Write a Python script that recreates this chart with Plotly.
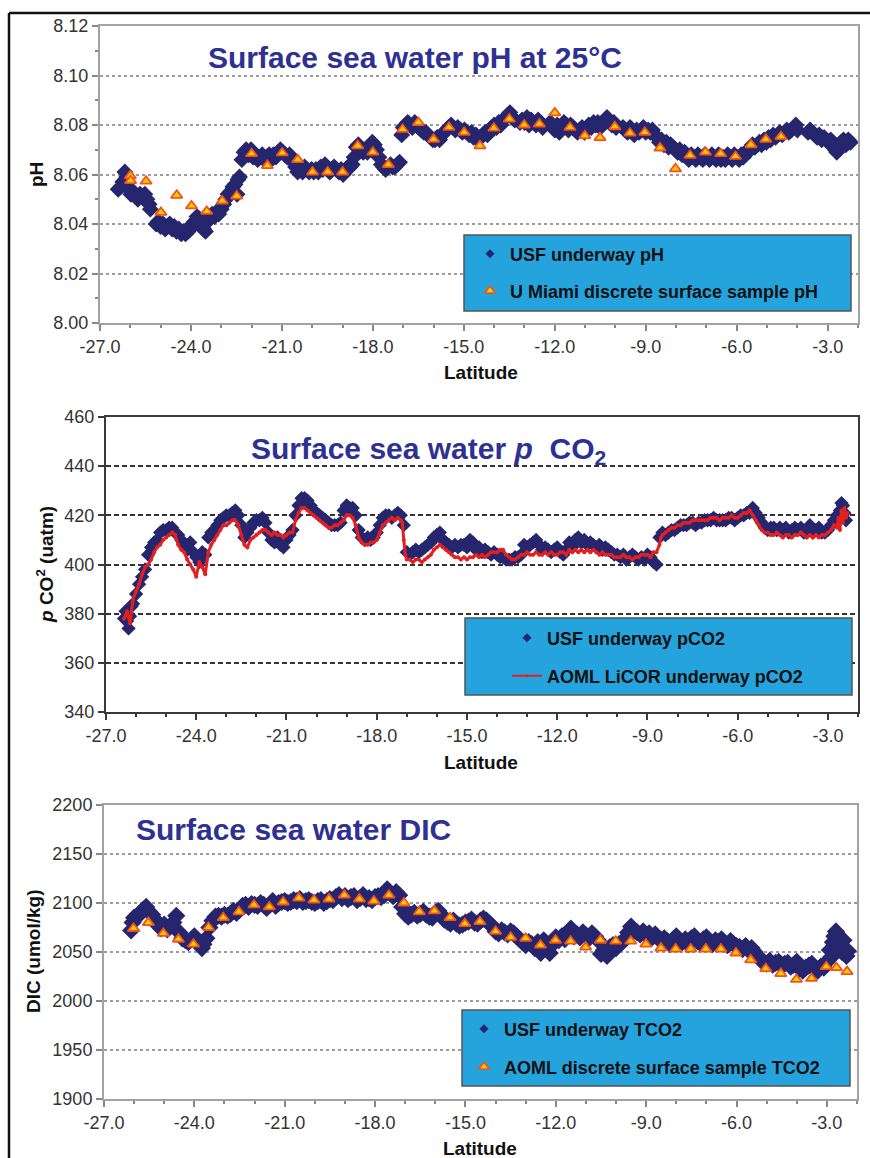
import plotly.graph_objects as go

# ---------------- DATA ----------------
# Panel 1: USF underway pH (latitude, pH)
ph_usf = [
    (-26.40, 8.054), (-26.32, 8.055), (-26.25, 8.057), (-26.18, 8.061), (-26.12, 8.059), (-26.05, 8.054),
    (-25.98, 8.052), (-25.90, 8.053), (-25.82, 8.051), (-25.75, 8.050), (-25.68, 8.052), (-25.60, 8.051),
    (-25.52, 8.052), (-25.45, 8.050), (-25.38, 8.048), (-25.34, 8.046),
    (-25.15, 8.040), (-25.08, 8.041), (-25.00, 8.039), (-24.92, 8.040), (-24.85, 8.038), (-24.78, 8.039),
    (-24.70, 8.040), (-24.62, 8.038), (-24.55, 8.039), (-24.48, 8.037), (-24.40, 8.038), (-24.32, 8.036),
    (-24.25, 8.037), (-24.18, 8.036), (-24.10, 8.037), (-24.02, 8.038), (-23.95, 8.040), (-23.88, 8.041),
    (-23.80, 8.043), (-23.72, 8.042), (-23.65, 8.040), (-23.58, 8.038), (-23.52, 8.037), (-23.45, 8.041),
    (-23.38, 8.043), (-23.30, 8.044), (-23.22, 8.043), (-23.15, 8.045), (-23.08, 8.044), (-23.00, 8.046),
    (-22.92, 8.048), (-22.85, 8.050), (-22.78, 8.052), (-22.70, 8.053), (-22.62, 8.055), (-22.55, 8.056),
    (-22.48, 8.052), (-22.45, 8.058), (-22.40, 8.059),
    (-22.32, 8.066), (-22.25, 8.069), (-22.18, 8.070), (-22.10, 8.068), (-22.02, 8.070), (-21.95, 8.067),
    (-21.88, 8.068), (-21.80, 8.066), (-21.72, 8.067), (-21.65, 8.068), (-21.58, 8.066), (-21.50, 8.067),
    (-21.42, 8.068), (-21.35, 8.066), (-21.28, 8.068), (-21.20, 8.067), (-21.12, 8.069), (-21.05, 8.070),
    (-20.98, 8.069), (-20.90, 8.068), (-20.82, 8.067), (-20.75, 8.068), (-20.68, 8.066), (-20.62, 8.065),
    (-20.55, 8.063), (-20.48, 8.061), (-20.40, 8.062), (-20.32, 8.061), (-20.25, 8.063), (-20.18, 8.062),
    (-20.10, 8.061), (-20.02, 8.062), (-19.95, 8.061), (-19.88, 8.062), (-19.80, 8.061), (-19.72, 8.063),
    (-19.65, 8.062), (-19.58, 8.064), (-19.50, 8.062), (-19.42, 8.061), (-19.35, 8.062), (-19.28, 8.063),
    (-19.20, 8.062), (-19.12, 8.061), (-19.05, 8.062), (-18.98, 8.060), (-18.90, 8.062), (-18.82, 8.063),
    (-18.75, 8.063), (-18.68, 8.064),
    (-18.62, 8.067), (-18.55, 8.071), (-18.48, 8.072), (-18.40, 8.070), (-18.32, 8.069), (-18.25, 8.070),
    (-18.18, 8.069), (-18.10, 8.071), (-18.02, 8.073), (-17.95, 8.072), (-17.88, 8.070), (-17.80, 8.067),
    (-17.72, 8.064), (-17.65, 8.063), (-17.58, 8.062), (-17.50, 8.063), (-17.42, 8.064), (-17.35, 8.063),
    (-17.28, 8.063), (-17.20, 8.064), (-17.12, 8.065),
    (-17.05, 8.076), (-17.00, 8.079), (-16.92, 8.080), (-16.85, 8.081), (-16.78, 8.080), (-16.70, 8.079),
    (-16.62, 8.081), (-16.55, 8.080), (-16.48, 8.079), (-16.40, 8.078), (-16.32, 8.077), (-16.25, 8.077),
    (-16.18, 8.076), (-16.10, 8.075), (-16.02, 8.074), (-15.95, 8.074), (-15.88, 8.075), (-15.80, 8.074),
    (-15.72, 8.076), (-15.65, 8.077), (-15.58, 8.078), (-15.50, 8.079), (-15.42, 8.080), (-15.35, 8.079),
    (-15.28, 8.078), (-15.20, 8.079), (-15.12, 8.078), (-15.05, 8.077), (-14.98, 8.078), (-14.90, 8.077),
    (-14.82, 8.076), (-14.75, 8.077), (-14.68, 8.075), (-14.60, 8.076), (-14.52, 8.074), (-14.45, 8.075),
    (-14.38, 8.076), (-14.30, 8.077), (-14.22, 8.076), (-14.15, 8.078), (-14.08, 8.079), (-14.00, 8.080),
    (-13.92, 8.079), (-13.85, 8.081), (-13.78, 8.080), (-13.70, 8.082), (-13.62, 8.083), (-13.55, 8.084),
    (-13.48, 8.085), (-13.40, 8.083), (-13.32, 8.082),
    (-13.15, 8.081), (-13.08, 8.082), (-13.00, 8.081), (-12.92, 8.083), (-12.85, 8.080), (-12.78, 8.082),
    (-12.70, 8.081), (-12.62, 8.080), (-12.55, 8.082), (-12.48, 8.081), (-12.40, 8.079),
    (-12.15, 8.081), (-12.08, 8.080), (-12.00, 8.078), (-11.92, 8.080), (-11.85, 8.077), (-11.78, 8.079),
    (-11.70, 8.081), (-11.62, 8.080), (-11.55, 8.078), (-11.48, 8.080), (-11.40, 8.079), (-11.32, 8.078),
    (-11.25, 8.077), (-11.18, 8.078), (-11.10, 8.079), (-11.02, 8.077), (-10.95, 8.078), (-10.88, 8.080),
    (-10.80, 8.079), (-10.72, 8.081), (-10.65, 8.080), (-10.58, 8.081), (-10.50, 8.079), (-10.42, 8.081),
    (-10.35, 8.082), (-10.28, 8.083), (-10.20, 8.081), (-10.12, 8.080), (-10.05, 8.081), (-9.98, 8.079),
    (-9.75, 8.079), (-9.68, 8.078), (-9.60, 8.077), (-9.52, 8.079), (-9.45, 8.078), (-9.38, 8.076),
    (-9.30, 8.078), (-9.22, 8.077), (-9.15, 8.078), (-9.08, 8.079), (-9.00, 8.077), (-8.92, 8.078),
    (-8.85, 8.077), (-8.78, 8.078), (-8.70, 8.076), (-8.62, 8.075), (-8.55, 8.073), (-8.48, 8.074),
    (-8.40, 8.072), (-8.32, 8.073), (-8.25, 8.071), (-8.18, 8.072), (-8.10, 8.071), (-8.02, 8.070),
    (-7.95, 8.069), (-7.88, 8.070), (-7.80, 8.068), (-7.72, 8.069), (-7.65, 8.067), (-7.58, 8.066),
    (-7.50, 8.068), (-7.42, 8.067), (-7.35, 8.066), (-7.28, 8.068), (-7.20, 8.067), (-7.12, 8.066),
    (-7.05, 8.068), (-6.98, 8.067), (-6.90, 8.066), (-6.82, 8.068), (-6.75, 8.067), (-6.68, 8.066),
    (-6.60, 8.068), (-6.52, 8.066), (-6.45, 8.067), (-6.38, 8.066), (-6.30, 8.068), (-6.22, 8.067),
    (-6.15, 8.066), (-6.08, 8.068), (-6.00, 8.067), (-5.92, 8.066), (-5.85, 8.068), (-5.78, 8.067),
    (-5.70, 8.069), (-5.62, 8.070), (-5.55, 8.070), (-5.48, 8.072), (-5.40, 8.071), (-5.32, 8.072),
    (-5.25, 8.073), (-5.18, 8.072), (-5.10, 8.074), (-5.02, 8.073), (-4.95, 8.075), (-4.88, 8.074),
    (-4.80, 8.076), (-4.72, 8.075), (-4.65, 8.076), (-4.58, 8.077), (-4.50, 8.076), (-4.42, 8.077),
    (-4.35, 8.078), (-4.28, 8.077), (-4.20, 8.078), (-4.12, 8.079), (-4.05, 8.080), (-4.00, 8.078),
    (-3.65, 8.077), (-3.58, 8.078), (-3.50, 8.077), (-3.42, 8.076), (-3.35, 8.075), (-3.28, 8.076),
    (-3.20, 8.074), (-3.12, 8.075), (-3.05, 8.074), (-2.98, 8.073), (-2.90, 8.074), (-2.82, 8.072),
    (-2.75, 8.070), (-2.70, 8.069), (-2.62, 8.071), (-2.55, 8.073), (-2.48, 8.074), (-2.40, 8.072),
    (-2.32, 8.074), (-2.25, 8.073),
]

# Panel 1: U Miami discrete surface sample pH
ph_um = [
    (-26.00, 8.0595), (-25.99, 8.0575), (-25.48, 8.0573), (-24.99, 8.0447), (-24.47, 8.0516),
    (-23.98, 8.0473), (-23.48, 8.0451), (-22.97, 8.0493), (-22.49, 8.0513), (-22.00, 8.0684),
    (-21.48, 8.0636), (-20.99, 8.0687), (-20.48, 8.0660), (-19.99, 8.0610), (-19.49, 8.0610),
    (-19.00, 8.0610), (-18.50, 8.0716), (-18.00, 8.0690), (-17.49, 8.0640), (-17.02, 8.0782),
    (-16.50, 8.0810), (-16.00, 8.0742), (-15.49, 8.0790), (-14.99, 8.0770), (-14.47, 8.0716),
    (-14.01, 8.0787), (-13.50, 8.0824), (-13.01, 8.0800), (-12.51, 8.0804), (-12.00, 8.0849),
    (-11.50, 8.0790), (-11.01, 8.0757), (-10.51, 8.0749), (-10.02, 8.0793), (-9.52, 8.0767),
    (-9.03, 8.0770), (-8.53, 8.0707), (-8.02, 8.0623), (-7.54, 8.0677), (-7.03, 8.0690),
    (-6.53, 8.0684), (-6.04, 8.0673), (-5.53, 8.0720), (-5.04, 8.0742), (-4.54, 8.0753),
]

# Panel 2: USF underway pCO2 (latitude, uatm)
pco2_usf = [
    (-26.40, 378), (-26.35, 381), (-26.30, 377), (-26.25, 374), (-26.20, 379), (-26.15, 383), (-26.10, 384),
    (-26.00, 388), (-25.90, 392), (-25.80, 395), (-25.70, 398), (-25.60, 404), (-25.50, 407), (-25.40, 409),
    (-25.30, 410), (-25.20, 413), (-25.10, 414), (-25.00, 414), (-24.90, 415), (-24.80, 415), (-24.70, 413),
    (-24.60, 412), (-24.50, 410), (-24.40, 408), (-24.30, 406), (-24.20, 409), (-24.10, 405), (-24.00, 403),
    (-23.90, 401), (-23.80, 405), (-23.70, 404), (-23.60, 411), (-23.50, 413), (-23.40, 414), (-23.30, 416),
    (-23.20, 418), (-23.10, 419), (-23.00, 420), (-22.90, 420), (-22.80, 421), (-22.70, 422), (-22.60, 420),
    (-22.50, 416), (-22.40, 411), (-22.30, 413), (-22.20, 415), (-22.10, 417), (-22.00, 418), (-21.90, 418),
    (-21.80, 419), (-21.70, 417), (-21.60, 413), (-21.50, 410), (-21.40, 409), (-21.30, 411), (-21.20, 408),
    (-21.10, 407), (-21.00, 410), (-20.90, 412), (-20.80, 414), (-20.70, 420), (-20.60, 424), (-20.50, 427),
    (-20.40, 427), (-20.30, 426), (-20.20, 424), (-20.10, 422), (-20.00, 421), (-19.90, 420), (-19.80, 419),
    (-19.70, 418), (-19.60, 417), (-19.50, 416), (-19.40, 416), (-19.30, 416), (-19.20, 417), (-19.10, 422),
    (-19.00, 424), (-18.90, 423), (-18.80, 423), (-18.70, 420), (-18.60, 414), (-18.50, 411), (-18.40, 410),
    (-18.30, 411), (-18.20, 410), (-18.10, 411), (-18.00, 413), (-17.90, 416), (-17.80, 419), (-17.70, 420),
    (-17.60, 420), (-17.50, 419), (-17.40, 420), (-17.30, 421), (-17.20, 420), (-17.10, 416), (-17.00, 405),
    (-16.90, 404), (-16.80, 405), (-16.70, 406), (-16.60, 405), (-16.50, 406), (-16.40, 407), (-16.30, 408),
    (-16.20, 409), (-16.10, 411), (-16.00, 412), (-15.90, 413), (-15.80, 410), (-15.70, 409), (-15.60, 408),
    (-15.50, 407), (-15.40, 408), (-15.30, 407), (-15.20, 408), (-15.10, 408), (-15.00, 407), (-14.90, 410),
    (-14.80, 409), (-14.70, 406), (-14.60, 407), (-14.50, 405), (-14.40, 406), (-14.30, 405), (-14.20, 404),
    (-14.10, 405), (-14.00, 404), (-13.90, 403), (-13.80, 403), (-13.70, 402), (-13.60, 402), (-13.50, 402),
    (-13.40, 403), (-13.30, 403), (-13.20, 404), (-13.10, 408), (-13.00, 407), (-12.90, 408), (-12.80, 409),
    (-12.70, 410), (-12.60, 408), (-12.50, 406), (-12.40, 407), (-12.30, 406), (-12.20, 405), (-12.10, 406),
    (-12.00, 407), (-11.90, 405), (-11.80, 404), (-11.70, 406), (-11.60, 409), (-11.50, 407), (-11.40, 410),
    (-11.30, 411), (-11.20, 409), (-11.10, 410), (-11.00, 408), (-10.90, 409), (-10.80, 408), (-10.70, 407),
    (-10.60, 408), (-10.50, 406), (-10.40, 407), (-10.30, 406), (-10.20, 405), (-10.10, 404), (-10.00, 404),
    (-9.90, 403), (-9.80, 404), (-9.70, 402), (-9.60, 403), (-9.50, 404), (-9.40, 403), (-9.30, 402),
    (-9.20, 403), (-9.10, 402), (-9.00, 404), (-8.90, 403), (-8.80, 401), (-8.70, 400), (-8.60, 411),
    (-8.50, 413), (-8.40, 412), (-8.30, 413), (-8.20, 414), (-8.10, 414), (-8.00, 415), (-7.90, 416),
    (-7.80, 416), (-7.70, 416), (-7.60, 417), (-7.50, 417), (-7.40, 416), (-7.30, 417), (-7.20, 417),
    (-7.10, 418), (-7.00, 418), (-6.90, 418), (-6.80, 419), (-6.70, 418), (-6.60, 418), (-6.50, 418),
    (-6.40, 418), (-6.30, 419), (-6.20, 419), (-6.10, 418), (-6.00, 419), (-5.90, 420), (-5.80, 420),
    (-5.70, 421), (-5.60, 421), (-5.50, 423), (-5.40, 421), (-5.30, 419), (-5.20, 417), (-5.10, 415),
    (-5.00, 414), (-4.90, 415), (-4.80, 415), (-4.70, 414), (-4.60, 415), (-4.50, 414), (-4.40, 415),
    (-4.30, 413), (-4.20, 414), (-4.10, 415), (-4.00, 414), (-3.90, 415), (-3.80, 413), (-3.70, 414),
    (-3.60, 416), (-3.50, 413), (-3.40, 414), (-3.30, 415), (-3.20, 413), (-3.10, 413), (-3.00, 414),
    (-2.90, 416), (-2.80, 418), (-2.70, 420), (-2.60, 422), (-2.55, 425), (-2.50, 424), (-2.45, 421),
    (-2.40, 418),
]

# Panel 2: AOML LiCOR underway pCO2
pco2_aoml = [
    (-26.40, 378), (-26.30, 381), (-26.20, 376), (-26.10, 386), (-26.00, 389), (-25.90, 392), (-25.80, 396),
    (-25.70, 399), (-25.60, 400), (-25.50, 402), (-25.40, 405), (-25.30, 407), (-25.20, 408), (-25.10, 410),
    (-25.00, 411), (-24.90, 412), (-24.80, 413), (-24.70, 412), (-24.60, 408), (-24.50, 406), (-24.40, 405),
    (-24.30, 402), (-24.20, 400), (-24.10, 398), (-24.00, 395), (-23.90, 401), (-23.80, 399), (-23.70, 396),
    (-23.60, 405), (-23.50, 408), (-23.40, 410), (-23.30, 412), (-23.20, 414), (-23.10, 416), (-23.00, 416),
    (-22.90, 417), (-22.80, 418), (-22.70, 418), (-22.60, 416), (-22.50, 412), (-22.40, 408), (-22.30, 407),
    (-22.20, 410), (-22.10, 411), (-22.00, 412), (-21.90, 413), (-21.80, 414), (-21.70, 414), (-21.60, 413),
    (-21.50, 412), (-21.40, 413), (-21.30, 412), (-21.20, 412), (-21.10, 411), (-21.00, 412), (-20.90, 413),
    (-20.80, 413), (-20.70, 418), (-20.60, 421), (-20.50, 423), (-20.40, 423), (-20.30, 422), (-20.20, 421),
    (-20.10, 420), (-20.00, 419), (-19.90, 418), (-19.80, 417), (-19.70, 416), (-19.60, 415), (-19.50, 415),
    (-19.40, 416), (-19.30, 416), (-19.20, 417), (-19.10, 418), (-19.00, 420), (-18.90, 420), (-18.80, 419),
    (-18.70, 416), (-18.60, 411), (-18.50, 409), (-18.40, 408), (-18.30, 408), (-18.20, 409), (-18.10, 409),
    (-18.00, 410), (-17.90, 413), (-17.80, 416), (-17.70, 417), (-17.60, 418), (-17.50, 419), (-17.40, 418),
    (-17.30, 419), (-17.20, 418), (-17.15, 417), (-17.10, 410), (-17.05, 404), (-17.00, 402), (-16.90, 402),
    (-16.80, 401), (-16.70, 402), (-16.60, 402), (-16.50, 401), (-16.40, 402), (-16.30, 403), (-16.20, 404),
    (-16.10, 406), (-16.00, 407), (-15.90, 408), (-15.80, 407), (-15.70, 406), (-15.60, 405), (-15.50, 404),
    (-15.40, 403), (-15.30, 403), (-15.20, 402), (-15.10, 403), (-15.00, 402), (-14.90, 403), (-14.80, 403),
    (-14.70, 404), (-14.60, 403), (-14.50, 404), (-14.40, 403), (-14.30, 404), (-14.20, 405), (-14.10, 405),
    (-14.00, 405), (-13.90, 406), (-13.80, 406), (-13.70, 404), (-13.60, 403), (-13.50, 402), (-13.40, 402),
    (-13.30, 403), (-13.20, 404), (-13.10, 404), (-13.00, 405), (-12.90, 404), (-12.80, 404), (-12.70, 405),
    (-12.60, 404), (-12.50, 404), (-12.40, 405), (-12.30, 404), (-12.20, 405), (-12.10, 404), (-12.00, 404),
    (-11.90, 405), (-11.80, 405), (-11.70, 404), (-11.60, 406), (-11.50, 405), (-11.40, 406), (-11.30, 405),
    (-11.20, 406), (-11.10, 405), (-11.00, 406), (-10.90, 405), (-10.80, 406), (-10.70, 405), (-10.60, 404),
    (-10.50, 405), (-10.40, 404), (-10.30, 404), (-10.20, 404), (-10.10, 403), (-10.00, 403), (-9.90, 403),
    (-9.80, 404), (-9.70, 403), (-9.60, 403), (-9.50, 402), (-9.40, 403), (-9.30, 403), (-9.20, 404),
    (-9.10, 404), (-9.00, 404), (-8.90, 403), (-8.80, 405), (-8.70, 405), (-8.60, 408), (-8.55, 411),
    (-8.50, 412), (-8.40, 413), (-8.30, 414), (-8.20, 415), (-8.10, 415), (-8.00, 416), (-7.90, 416),
    (-7.80, 417), (-7.70, 417), (-7.60, 417), (-7.50, 418), (-7.40, 418), (-7.30, 418), (-7.20, 418),
    (-7.10, 418), (-7.00, 418), (-6.90, 419), (-6.80, 419), (-6.70, 419), (-6.60, 418), (-6.50, 419),
    (-6.40, 419), (-6.30, 419), (-6.20, 420), (-6.10, 419), (-6.00, 419), (-5.90, 420), (-5.80, 421),
    (-5.70, 421), (-5.60, 422), (-5.50, 420), (-5.40, 418), (-5.30, 416), (-5.20, 414), (-5.10, 413),
    (-5.00, 413), (-4.90, 412), (-4.80, 412), (-4.70, 413), (-4.60, 412), (-4.50, 411), (-4.40, 412),
    (-4.30, 412), (-4.20, 411), (-4.10, 412), (-4.00, 412), (-3.90, 413), (-3.80, 412), (-3.70, 411),
    (-3.60, 412), (-3.50, 411), (-3.40, 412), (-3.30, 411), (-3.20, 412), (-3.10, 412), (-3.00, 413),
    (-2.90, 414), (-2.80, 416), (-2.70, 415), (-2.65, 419), (-2.60, 414), (-2.55, 422), (-2.50, 417),
    (-2.45, 423), (-2.40, 419), (-2.35, 421),
]

# Panel 3: USF underway TCO2 (latitude, umol/kg)
dic_usf = [
    (-26.10, 2072), (-26.05, 2080), (-26.00, 2085), (-25.90, 2087), (-25.80, 2089), (-25.70, 2093),
    (-25.60, 2096), (-25.50, 2091), (-25.40, 2088), (-25.30, 2083), (-25.20, 2077), (-25.10, 2074),
    (-25.00, 2078), (-24.90, 2073), (-24.80, 2076), (-24.70, 2080), (-24.60, 2087), (-24.50, 2070),
    (-24.40, 2064), (-24.30, 2062), (-24.20, 2060), (-24.10, 2063), (-24.00, 2066), (-23.90, 2061),
    (-23.80, 2058), (-23.75, 2054), (-23.70, 2058), (-23.60, 2064), (-23.50, 2075), (-23.40, 2082),
    (-23.30, 2086), (-23.20, 2087), (-23.10, 2086), (-23.00, 2088), (-22.90, 2087), (-22.80, 2089),
    (-22.70, 2092), (-22.60, 2090), (-22.50, 2093), (-22.40, 2097), (-22.30, 2098), (-22.20, 2096),
    (-22.10, 2099), (-22.00, 2098), (-21.90, 2097), (-21.80, 2100), (-21.70, 2098), (-21.60, 2095),
    (-21.50, 2098), (-21.40, 2102), (-21.30, 2097), (-21.20, 2100), (-21.10, 2101), (-21.00, 2102),
    (-20.90, 2100), (-20.80, 2101), (-20.70, 2103), (-20.60, 2102), (-20.50, 2104), (-20.40, 2101),
    (-20.30, 2102), (-20.20, 2103), (-20.10, 2101), (-20.00, 2100), (-19.90, 2102), (-19.80, 2103),
    (-19.70, 2100), (-19.60, 2102), (-19.50, 2104), (-19.40, 2103), (-19.30, 2106), (-19.20, 2108),
    (-19.10, 2105), (-19.00, 2107), (-18.90, 2104), (-18.80, 2106), (-18.70, 2107), (-18.60, 2103),
    (-18.50, 2105), (-18.40, 2108), (-18.30, 2104), (-18.20, 2105), (-18.10, 2103), (-18.00, 2106),
    (-17.90, 2107), (-17.80, 2106), (-17.70, 2108), (-17.60, 2114), (-17.50, 2110), (-17.40, 2107),
    (-17.30, 2111), (-17.20, 2108), (-17.10, 2096), (-17.00, 2089), (-16.90, 2086), (-16.80, 2088),
    (-16.70, 2090), (-16.60, 2087), (-16.50, 2089), (-16.40, 2091), (-16.30, 2088), (-16.20, 2086),
    (-16.10, 2085), (-16.00, 2090), (-15.90, 2092), (-15.80, 2088), (-15.70, 2083), (-15.60, 2081),
    (-15.50, 2079), (-15.40, 2082), (-15.30, 2079), (-15.20, 2077), (-15.10, 2078), (-15.00, 2080),
    (-14.90, 2081), (-14.80, 2083), (-14.70, 2080), (-14.60, 2079), (-14.50, 2082), (-14.40, 2084),
    (-14.30, 2082), (-14.20, 2079), (-14.10, 2076), (-14.00, 2071), (-13.90, 2069), (-13.80, 2072),
    (-13.70, 2070), (-13.60, 2068), (-13.50, 2071), (-13.40, 2069), (-13.30, 2066), (-13.20, 2063),
    (-13.10, 2060), (-13.00, 2057), (-12.90, 2060), (-12.80, 2058), (-12.70, 2054), (-12.60, 2060),
    (-12.50, 2049), (-12.40, 2062), (-12.30, 2056), (-12.20, 2049), (-12.10, 2058), (-12.00, 2065),
    (-11.90, 2062), (-11.80, 2066), (-11.70, 2063), (-11.60, 2068), (-11.50, 2074), (-11.40, 2066),
    (-11.30, 2068), (-11.20, 2065), (-11.10, 2070), (-11.00, 2067), (-10.90, 2064), (-10.80, 2069),
    (-10.70, 2066), (-10.60, 2062), (-10.50, 2048), (-10.40, 2052), (-10.30, 2046), (-10.20, 2055),
    (-10.10, 2057), (-10.00, 2054), (-9.90, 2058), (-9.80, 2060), (-9.70, 2063), (-9.60, 2070),
    (-9.50, 2076), (-9.40, 2072), (-9.30, 2070), (-9.20, 2068), (-9.10, 2071), (-9.00, 2067),
    (-8.90, 2069), (-8.80, 2065), (-8.70, 2068), (-8.60, 2064), (-8.50, 2062), (-8.40, 2064),
    (-8.30, 2061), (-8.20, 2058), (-8.10, 2063), (-8.00, 2066), (-7.90, 2062), (-7.80, 2060),
    (-7.70, 2063), (-7.60, 2058), (-7.50, 2064), (-7.40, 2066), (-7.30, 2061), (-7.20, 2059),
    (-7.10, 2063), (-7.00, 2065), (-6.90, 2060), (-6.80, 2058), (-6.70, 2062), (-6.60, 2060),
    (-6.50, 2063), (-6.40, 2059), (-6.30, 2057), (-6.20, 2061), (-6.10, 2058), (-6.00, 2056),
    (-5.90, 2055), (-5.80, 2053), (-5.70, 2056), (-5.60, 2052), (-5.50, 2054), (-5.40, 2050),
    (-5.30, 2046), (-5.20, 2042), (-5.10, 2040), (-5.00, 2038), (-4.90, 2041), (-4.80, 2037),
    (-4.70, 2039), (-4.60, 2040), (-4.50, 2036), (-4.40, 2038), (-4.30, 2039), (-4.20, 2035),
    (-4.10, 2037), (-4.00, 2040), (-3.90, 2033), (-3.80, 2031), (-3.70, 2034), (-3.60, 2036),
    (-3.50, 2038), (-3.40, 2033), (-3.30, 2031), (-3.20, 2035), (-3.10, 2034), (-3.00, 2040),
    (-2.90, 2052), (-2.85, 2045), (-2.80, 2060), (-2.75, 2066), (-2.70, 2071), (-2.65, 2068),
    (-2.60, 2063), (-2.55, 2057), (-2.50, 2050), (-2.45, 2062), (-2.40, 2053), (-2.35, 2046),
    (-2.30, 2051),
]

# Panel 3: AOML discrete surface sample TCO2
dic_aoml = [
    (-26.02, 2074), (-25.53, 2080), (-25.03, 2069), (-24.53, 2063), (-24.03, 2058), (-23.53, 2075),
    (-23.04, 2085), (-22.52, 2091), (-22.02, 2098), (-21.51, 2096), (-21.05, 2101), (-20.53, 2105),
    (-20.03, 2103), (-19.53, 2104), (-19.02, 2108), (-18.52, 2104), (-18.04, 2102), (-17.54, 2108),
    (-17.04, 2100), (-16.53, 2091), (-16.03, 2092), (-15.51, 2085), (-15.02, 2079), (-14.52, 2081),
    (-14.00, 2071), (-13.50, 2065), (-13.00, 2064), (-12.51, 2057), (-12.01, 2062), (-11.51, 2061),
    (-11.01, 2055), (-10.52, 2062), (-10.01, 2061), (-9.51, 2061), (-9.01, 2058), (-8.51, 2054),
    (-8.02, 2053), (-7.52, 2053), (-7.02, 2053), (-6.52, 2053), (-6.02, 2049), (-5.53, 2042),
    (-5.03, 2033), (-4.53, 2028), (-4.01, 2022), (-3.51, 2023), (-3.02, 2035), (-2.68, 2034),
    (-2.33, 2030),
]

x_tickvals = [-27.0, -24.0, -21.0, -18.0, -15.0, -12.0, -9.0, -6.0, -3.0]
x_ticktext = ["-27.0", "-24.0", "-21.0", "-18.0", "-15.0", "-12.0", "-9.0", "-6.0", "-3.0"]
titles = ["Surface sea water pH at 25°C",
          "Surface sea water <i>p</i>  CO<sub>2</sub>",
          "Surface sea water DIC"]
y_titles = ["pH", "<i>p</i> CO<sup>2</sup> (uatm)", "DIC (umol/kg)"]
legend_names = ["USF underway pH", "U Miami discrete surface sample pH",
                "USF underway pCO2", "AOML LiCOR underway pCO2",
                "USF underway TCO2", "AOML discrete surface sample TCO2"]

# ---------------- STYLE / LAYOUT ----------------
W, H = 870, 1158
def px(x):
    return x / W
def py(y):
    return 1 - y / H

FONT = "Liberation Sans, Arial, sans-serif"
NAVY = "#26266f"
RED = "#e3201f"
TRI_FILL = "#ffcc00"
TRI_LINE = "#f4511e"
TITLE_BLUE = "#2e3192"
LEG_BG = "#25a3dc"

def unzip(pairs):
    return [p[0] for p in pairs], [p[1] for p in pairs]

fig = go.Figure()

# Panel 1
x, y = unzip(ph_usf)
fig.add_trace(go.Scatter(x=x, y=y, mode="markers", xaxis="x", yaxis="y", showlegend=False,
                         marker=dict(symbol="diamond", size=13, color=NAVY)))
x, y = unzip(ph_um)
fig.add_trace(go.Scatter(x=x, y=y, mode="markers", xaxis="x", yaxis="y", showlegend=False,
                         marker=dict(symbol="triangle-up", size=10, color=TRI_FILL,
                                     line=dict(color=TRI_LINE, width=1.8))))
# Panel 2
x, y = unzip(pco2_usf)
fig.add_trace(go.Scatter(x=x, y=y, mode="markers", xaxis="x2", yaxis="y2", showlegend=False,
                         marker=dict(symbol="diamond", size=11, color=NAVY)))
x, y = unzip(pco2_aoml)
fig.add_trace(go.Scatter(x=x, y=y, mode="lines+markers", xaxis="x2", yaxis="y2", showlegend=False,
                         line=dict(color=RED, width=3), marker=dict(size=4, color=RED)))
# Panel 3
x, y = unzip(dic_usf)
fig.add_trace(go.Scatter(x=x, y=y, mode="markers", xaxis="x3", yaxis="y3", showlegend=False,
                         marker=dict(symbol="diamond", size=14, color=NAVY)))
x, y = unzip(dic_aoml)
fig.add_trace(go.Scatter(x=x, y=y, mode="markers", xaxis="x3", yaxis="y3", showlegend=False,
                         marker=dict(symbol="triangle-up", size=10, color=TRI_FILL,
                                     line=dict(color=TRI_LINE, width=1.8))))

# Legend entries (one legend per entry for exact placement)
leg_styles = [
    dict(mode="markers", marker=dict(symbol="diamond", size=7, color=NAVY)),
    dict(mode="markers", marker=dict(symbol="triangle-up", size=9, color=TRI_FILL,
                                     line=dict(color=TRI_LINE, width=1.5))),
    dict(mode="markers", marker=dict(symbol="diamond", size=7, color=NAVY)),
    dict(mode="lines+markers", line=dict(color=RED, width=2), marker=dict(size=3, color=RED)),
    dict(mode="markers", marker=dict(symbol="diamond", size=7, color=NAVY)),
    dict(mode="markers", marker=dict(symbol="triangle-up", size=9, color=TRI_FILL,
                                     line=dict(color=TRI_LINE, width=1.5))),
]
leg_pos = [(470, 254), (470, 291), (507, 638), (507, 676), (464, 1029), (464, 1067)]
axes_of = ["x", "x", "x2", "x2", "x3", "x3"]
for i, (name, st) in enumerate(zip(legend_names, leg_styles)):
    lname = "legend" if i == 0 else f"legend{i+1}"
    xa = axes_of[i]
    ya = xa.replace("x", "y")
    fig.add_trace(go.Scatter(x=[None], y=[None], name=name, legend=lname, showlegend=True,
                             xaxis=xa, yaxis=ya, **st))

legends = {}
for i, (lx, ly) in enumerate(leg_pos):
    lname = "legend" if i == 0 else f"legend{i+1}"
    legends[lname] = dict(x=px(lx), y=py(ly), xanchor="left", yanchor="middle",
                          bgcolor="rgba(0,0,0,0)", borderwidth=0,
                          font=dict(family=FONT, size=18, color="#111", weight="bold"))

def xaxis_cfg(domain, anchor, linecolor, tickcolor):
    return dict(domain=domain, anchor=anchor, range=[-27, -2], tickmode="array",
                tickvals=x_tickvals, ticktext=x_ticktext, ticks="outside", ticklen=6, tickwidth=1.5,
                tickcolor=tickcolor, showline=True, linecolor=linecolor, linewidth=2, mirror=True,
                showgrid=False, zeroline=False, automargin=False,
                tickfont=dict(family=FONT, size=18, color="#333"),
                minor=dict(dtick=1, tick0=-27, ticks="outside", ticklen=3, tickcolor=tickcolor,
                           showgrid=False))

def yaxis_cfg(domain, anchor, rng, dtick, fmt, linecolor, tickcolor, gridcolor, griddash, gridwidth, minor_dtick=None):
    d = dict(domain=domain, anchor=anchor, range=rng, tick0=rng[0], dtick=dtick, tickformat=fmt,
             ticks="outside", ticklen=6, tickwidth=1.5, tickcolor=tickcolor, showline=True,
             linecolor=linecolor, linewidth=2, mirror=True, showgrid=True, gridcolor=gridcolor,
             griddash=griddash, gridwidth=gridwidth, zeroline=False, automargin=False,
             tickfont=dict(family=FONT, size=18, color="#333"))
    if minor_dtick:
        d["minor"] = dict(dtick=minor_dtick, tick0=rng[0], ticks="outside", ticklen=3,
                          tickcolor=tickcolor, showgrid=False)
    return d

GRAY = "#a3a3a3"
DARK = "#3a3a3a"

layout_axes = dict(
    xaxis=xaxis_cfg([px(100), px(858)], "y", GRAY, "#888"),
    yaxis=yaxis_cfg([py(323), py(26)], "x", [8.00, 8.12], 0.02, ".2f", GRAY, "#888",
                    "#9c9c9c", "dot", 1.6, 0.01),
    xaxis2=xaxis_cfg([px(106), px(858)], "y2", DARK, DARK),
    yaxis2=yaxis_cfg([py(712), py(417)], "x2", [340, 460], 20, "d", DARK, DARK,
                     "#333333", "5px,3px", 2),
    xaxis3=xaxis_cfg([px(104), px(857)], "y3", GRAY, "#888"),
    yaxis3=yaxis_cfg([py(1099), py(805)], "x3", [1900, 2200], 50, "d", GRAY, "#888",
                     "#9c9c9c", "dot", 1.6),
)

shapes = [
    # outer frame: top and left edges (right/bottom edges lie outside the picture)
    dict(type="line", xref="paper", yref="paper", x0=px(9), x1=1, y0=py(13), y1=py(13),
         line=dict(color="#111", width=2.5), layer="above"),
    dict(type="line", xref="paper", yref="paper", x0=px(9), x1=px(9), y0=0, y1=py(13),
         line=dict(color="#111", width=2.5), layer="above"),
    # legend boxes
    dict(type="rect", xref="paper", yref="paper", x0=px(464), x1=px(851), y0=py(311), y1=py(235),
         line=dict(color="#555", width=1.5), fillcolor=LEG_BG, layer="above"),
    dict(type="rect", xref="paper", yref="paper", x0=px(465), x1=px(852), y0=py(695), y1=py(618),
         line=dict(color="#555", width=1.5), fillcolor=LEG_BG, layer="above"),
    dict(type="rect", xref="paper", yref="paper", x0=px(462), x1=px(850), y0=py(1086), y1=py(1010),
         line=dict(color="#555", width=1.5), fillcolor=LEG_BG, layer="above"),
]

annotations = []
title_pos = [(415, 58), (428, 450), (293, 829)]
for t, (tx, ty) in zip(titles, title_pos):
    annotations.append(dict(text=t, x=px(tx), y=py(ty), xref="paper", yref="paper",
                            xanchor="center", yanchor="middle", showarrow=False,
                            font=dict(family=FONT, size=30, color=TITLE_BLUE, weight="bold")))
ytitle_pos = [(36, 175), (45, 565), (33, 951)]
for t, (tx, ty) in zip(y_titles, ytitle_pos):
    annotations.append(dict(text=t, x=px(tx), y=py(ty), xref="paper", yref="paper",
                            xanchor="center", yanchor="middle", showarrow=False, textangle=-90,
                            font=dict(family=FONT, size=19, color="#111", weight="bold")))
xtitle_pos = [(481, 373), (481, 762), (480, 1148)]
for (tx, ty) in xtitle_pos:
    annotations.append(dict(text="Latitude", x=px(tx), y=py(ty), xref="paper", yref="paper",
                            xanchor="center", yanchor="middle", showarrow=False,
                            font=dict(family=FONT, size=19, color="#111", weight="bold")))

fig.update_layout(
    width=W, height=H, margin=dict(l=0, r=0, t=0, b=0, pad=0, autoexpand=False),
    paper_bgcolor="white", plot_bgcolor="white",
    shapes=shapes, annotations=annotations,
    **layout_axes, **legends,
)

fig.write_html("out.html", config={"displayModeBar": False},
               post_script="document.body.style.margin='0px';document.body.style.overflow='hidden';")
